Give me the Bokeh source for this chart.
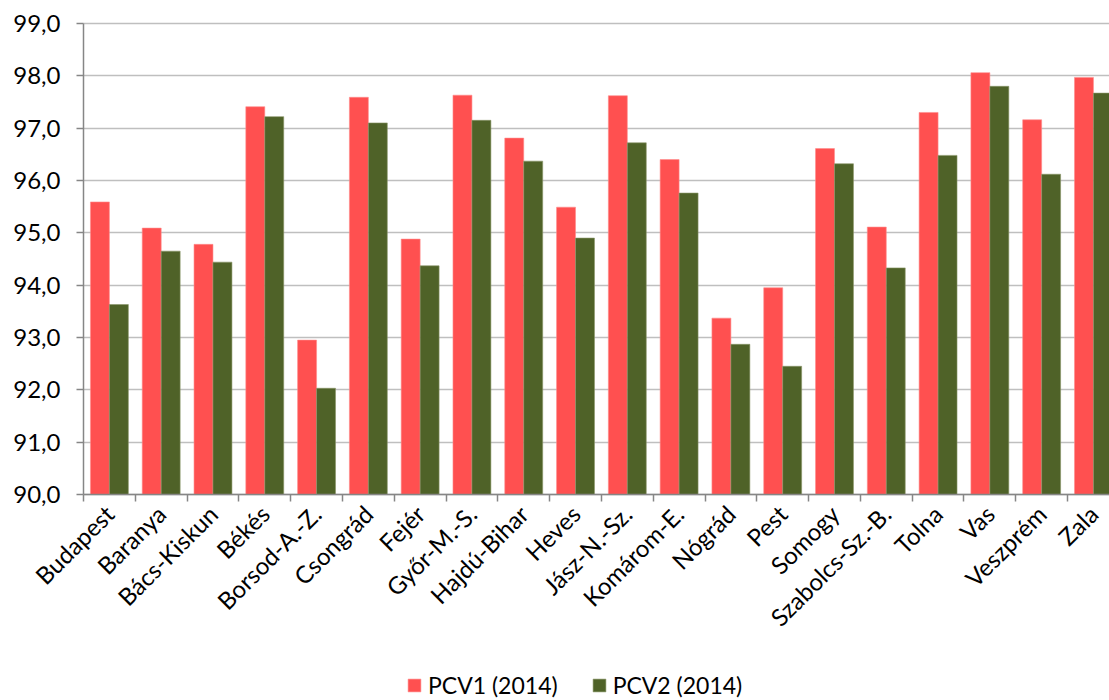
import numpy as np
from bokeh.plotting import figure
from bokeh.models import Range1d, FixedTicker, Legend, LegendItem, ColumnDataSource
from bokeh.transform import dodge
from bokeh.embed import file_html
from bokeh.resources import INLINE

counties = ["Budapest", "Baranya", "Bács-Kiskun", "Békés", "Borsod-A.-Z.", "Csongrád",
            "Fejér", "Győr-M.-S.", "Hajdú-Bihar", "Heves", "Jász-N.-Sz.", "Komárom-E.",
            "Nógrád", "Pest", "Somogy", "Szabolcs-Sz.-B.", "Tolna", "Vas", "Veszprém", "Zala"]
pcv1 = [95.59, 95.09, 94.78, 97.41, 92.95, 97.59, 94.88, 97.63, 96.81, 95.49,
        97.62, 96.40, 93.37, 93.95, 96.61, 95.11, 97.30, 98.06, 97.16, 97.97]
pcv2 = [93.63, 94.65, 94.44, 97.22, 92.03, 97.10, 94.37, 97.15, 96.37, 94.90,
        96.72, 95.76, 92.87, 92.45, 96.32, 94.33, 96.48, 97.80, 96.12, 97.67]
y_ticks = [90, 91, 92, 93, 94, 95, 96, 97, 98, 99]
y_tick_labels = ["90,0", "91,0", "92,0", "93,0", "94,0", "95,0", "96,0", "97,0", "98,0", "99,0"]
series_names = ["PCV1 (2014)", "PCV2 (2014)"]
colors = ["#FF5050", "#4F6228"]

FONT = "Lato"
n = len(counties)
centers = [i + 0.5 for i in range(n)]
src = ColumnDataSource(dict(x=centers, pcv1=pcv1, pcv2=pcv2))

# layout: the frame covers the whole figure; axes are drawn at fixed locations
W, H = 1109, 700
plot_left, plot_top, plot_bottom = 83, 23, 494
x_end = 19.81
px_per_cat = (W - plot_left) / x_end
px_per_unit = (plot_bottom - plot_top) / 9.0
x_start = -plot_left / px_per_cat
y_end = 99 + plot_top / px_per_unit
y_start = 90 - (H - plot_bottom) / px_per_unit

p = figure(frame_width=W, frame_height=H, x_range=Range1d(x_start, x_end),
           y_range=Range1d(y_start, y_end), output_backend="svg", toolbar_location=None,
           min_border_left=0, min_border_top=0, min_border_right=0, min_border_bottom=0,
           background_fill_color="white", border_fill_color="white")
p.outline_line_color = None

r1 = p.vbar(x=dodge("x", -0.183, range=p.x_range), top="pcv1", bottom=90, width=0.366,
            source=src, fill_color=colors[0], line_color="#FF8C8C", line_width=0.6)
r2 = p.vbar(x=dodge("x", 0.183, range=p.x_range), top="pcv2", bottom=90, width=0.366,
            source=src, fill_color=colors[1], line_color="#8A9668", line_width=0.6)

# x axis drawn at value 90: labels at centers, tick marks at category boundaries
p.xaxis.fixed_location = 90
p.xaxis.bounds = (0, x_end)
p.xaxis.ticker = FixedTicker(ticks=centers, minor_ticks=list(range(n + 1)))
p.xaxis.major_label_overrides = {c: name for c, name in zip(centers, counties)}
p.xaxis.major_label_orientation = np.pi / 4
p.xaxis.major_tick_out = 0
p.xaxis.major_tick_in = 0
p.xaxis.minor_tick_out = 7
p.xaxis.minor_tick_in = 0
p.xaxis.minor_tick_line_color = "#868686"
p.xaxis.minor_tick_line_width = 1.5
p.xaxis.axis_line_color = "#868686"
p.xaxis.axis_line_width = 1.5
p.xaxis.major_label_text_font = FONT
p.xaxis.major_label_text_font_size = "24px"
p.xaxis.major_label_text_color = "#000000"
p.xaxis.major_label_standoff = 8

# y axis drawn at the left edge of the categories
p.yaxis.fixed_location = 0
p.yaxis.bounds = (90, 99)
p.yaxis.ticker = FixedTicker(ticks=y_ticks)
p.yaxis.major_label_overrides = {t: lab for t, lab in zip(y_ticks, y_tick_labels)}
p.yaxis.major_tick_out = 7
p.yaxis.major_tick_in = 0
p.yaxis.minor_tick_out = 0
p.yaxis.minor_tick_in = 0
p.yaxis.major_tick_line_color = "#868686"
p.yaxis.major_tick_line_width = 1.5
p.yaxis.axis_line_color = "#868686"
p.yaxis.axis_line_width = 1.5
p.yaxis.major_label_text_font = FONT
p.yaxis.major_label_text_font_size = "24px"
p.yaxis.major_label_text_color = "#000000"
p.yaxis.major_label_standoff = 16

p.xgrid.grid_line_color = None
p.ygrid.grid_line_color = "#BFBFBF"
p.ygrid.grid_line_width = 1.5
p.ygrid.bounds = (90, 99)
p.ygrid.cross_bounds = (0, x_end)

legend = Legend(items=[LegendItem(label=series_names[0], renderers=[r1]),
                       LegendItem(label=series_names[1], renderers=[r2])],
                orientation="horizontal", location=(406, 1))
legend.label_text_font = FONT
legend.label_text_font_size = "23px"
legend.label_text_color = "#000000"
legend.glyph_width = 16
legend.glyph_height = 16
legend.label_standoff = 6
legend.spacing = 33
legend.padding = 0
legend.margin = 0
legend.border_line_color = None
legend.background_fill_alpha = 0
p.add_layout(legend, "center")

open("out.html", "w").write(file_html(p, INLINE))
